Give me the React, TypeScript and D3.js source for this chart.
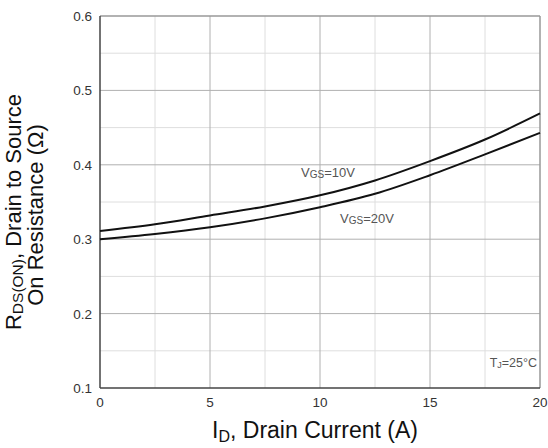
import React from "react";
import * as d3 from "d3";

const currents = [0, 2.5, 5, 7.5, 10, 12.5, 15, 17.5, 20];
const rdsVgs10 = [0.311, 0.320, 0.332, 0.344, 0.359, 0.379, 0.405, 0.434, 0.469];
const rdsVgs20 = [0.300, 0.307, 0.316, 0.328, 0.343, 0.361, 0.386, 0.414, 0.443];
const xTicks = [0, 5, 10, 15, 20];
const yTicks = [0.1, 0.2, 0.3, 0.4, 0.5, 0.6];
const xMinor = [2.5, 7.5, 12.5, 17.5];
const yMinor = [0.15, 0.25, 0.35, 0.45, 0.55];

const W = 548, H = 448;
const L = 100, R = 540, T = 16, B = 388;
const FONT = "'Liberation Sans', Arial, sans-serif";

export default function App() {
  const x = d3.scaleLinear().domain([0, 20]).range([L, R]);
  const y = d3.scaleLinear().domain([0.1, 0.6]).range([B, T]);
  const line = d3
    .line<number>()
    .x((_, i) => x(currents[i]))
    .y((d) => y(d))
    .curve(d3.curveMonotoneX);

  return (
    <svg width={W} height={H} style={{ position: "absolute", left: 0, top: 0, background: "#fff" }} fontFamily={FONT}>
      {/* minor grid */}
      {xMinor.map((v) => (
        <line key={"xm" + v} x1={x(v)} x2={x(v)} y1={T} y2={B} stroke="#dedede" strokeWidth={1} />
      ))}
      {yMinor.map((v) => (
        <line key={"ym" + v} x1={L} x2={R} y1={y(v)} y2={y(v)} stroke="#dedede" strokeWidth={1} />
      ))}
      {/* major grid */}
      {xTicks.slice(1, -1).map((v) => (
        <line key={"xM" + v} x1={x(v)} x2={x(v)} y1={T} y2={B} stroke="#b0b0b0" strokeWidth={1} />
      ))}
      {yTicks.slice(1, -1).map((v) => (
        <line key={"yM" + v} x1={L} x2={R} y1={y(v)} y2={y(v)} stroke="#b0b0b0" strokeWidth={1} />
      ))}
      {/* frame */}
      <line x1={L} x2={R} y1={T} y2={T} stroke="#999" strokeWidth={1.5} />
      <line x1={R} x2={R} y1={T} y2={B} stroke="#999" strokeWidth={1.5} />
      <line x1={L} x2={L} y1={T} y2={B} stroke="#444" strokeWidth={1.5} />
      <line x1={L} x2={R} y1={B} y2={B} stroke="#444" strokeWidth={1.5} />

      {/* curves */}
      <path d={line(rdsVgs10) || ""} fill="none" stroke="#111" strokeWidth={2} />
      <path d={line(rdsVgs20) || ""} fill="none" stroke="#111" strokeWidth={2} />

      {/* tick labels */}
      {yTicks.map((v) => (
        <text key={"yt" + v} x={L - 8} y={y(v) + 5} textAnchor="end" fontSize={13.5} fill="#333">
          {v.toFixed(1)}
        </text>
      ))}
      {xTicks.map((v) => (
        <text key={"xt" + v} x={x(v)} y={B + 19} textAnchor="middle" fontSize={13.5} fill="#333">
          {v}
        </text>
      ))}

      {/* annotations */}
      <text x={301} y={177} fontSize={13} fill="#555">
        V<tspan fontSize={10} dy={1}>GS</tspan>
        <tspan dy={-1}>=10V</tspan>
      </text>
      <text x={340} y={223} fontSize={13} fill="#555">
        V<tspan fontSize={10} dy={1}>GS</tspan>
        <tspan dy={-1}>=20V</tspan>
      </text>
      <text x={537} y={367} fontSize={12.5} fill="#555" textAnchor="end">
        T<tspan fontSize={9} dy={1}>J</tspan>
        <tspan dy={-1}>=25°C</tspan>
      </text>

      {/* axis titles */}
      <text x={315} y={438} textAnchor="middle" fontSize={23} fill="#111">
        I<tspan fontSize={16} dy={4}>D</tspan>
        <tspan dy={-4}>, Drain Current (A)</tspan>
      </text>
      <g transform={`translate(21, 212) rotate(-90)`}>
        <text x={0} y={0} textAnchor="middle" fontSize={22} fill="#111">
          R<tspan fontSize={15.5} dy={2}>DS(ON)</tspan>
          <tspan dy={-2}>, Drain to Source</tspan>
        </text>
      </g>
      <g transform={`translate(43, 215) rotate(-90)`}>
        <text x={0} y={0} textAnchor="middle" fontSize={22} fill="#111">
          On Resistance (Ω)
        </text>
      </g>
    </svg>
  );
}
